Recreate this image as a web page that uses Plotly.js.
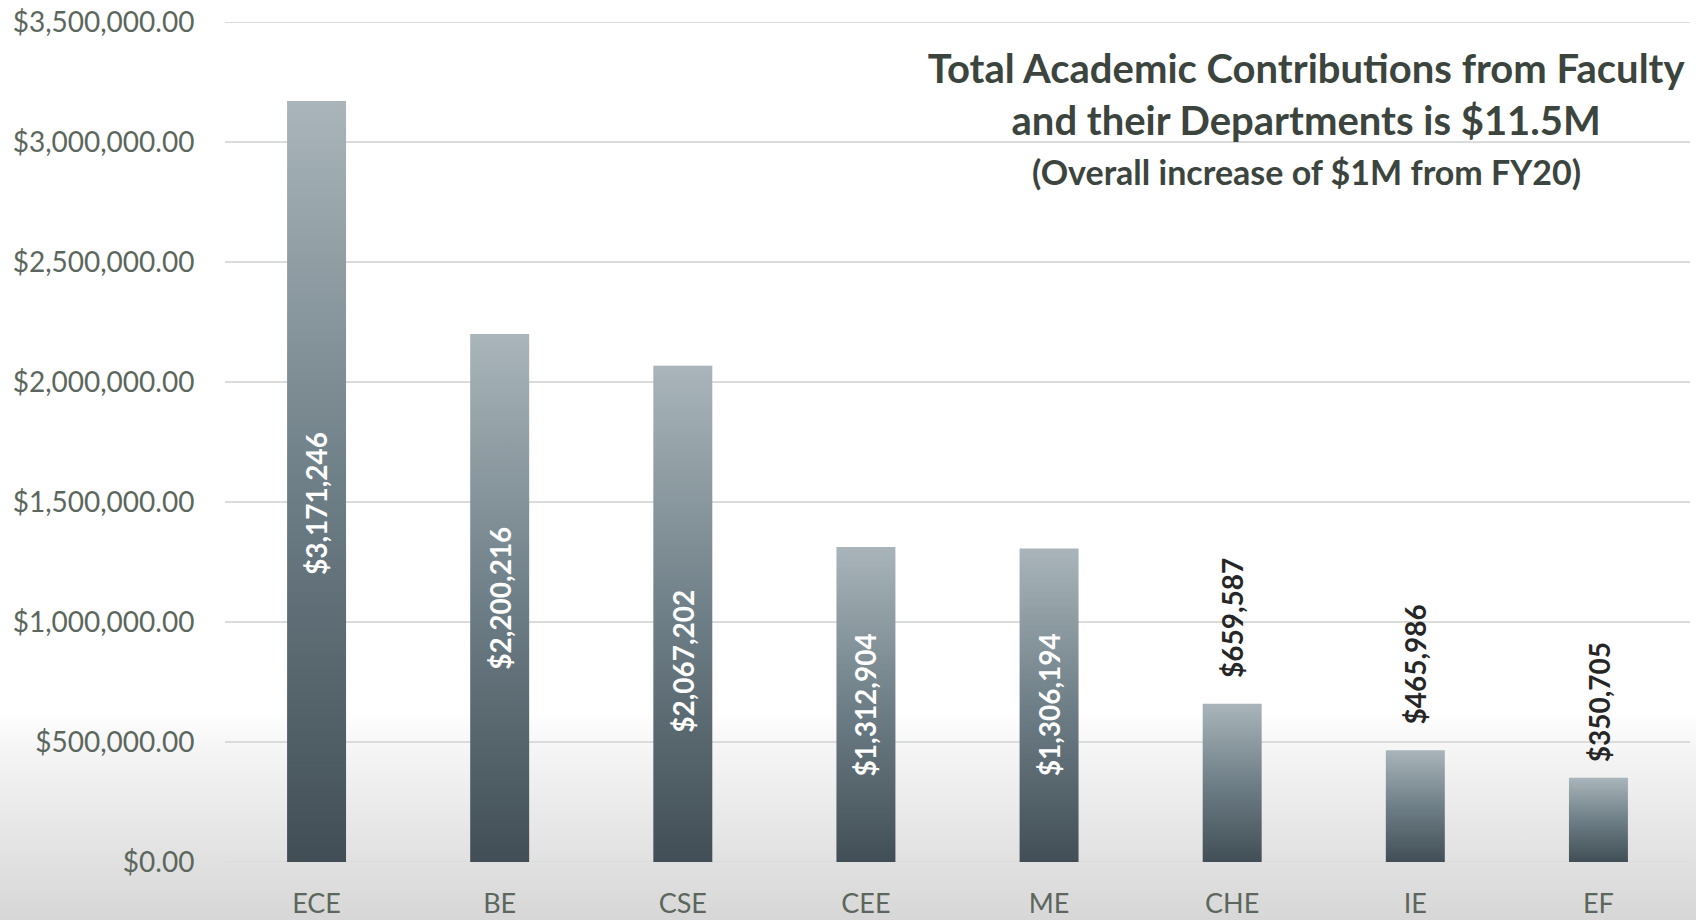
<!DOCTYPE html>
<html>
<head>
<meta charset="utf-8">
<script src="https://cdn.plot.ly/plotly-3.0.1.min.js"></script>
<style>
  html, body { margin: 0; padding: 0; }
  body {
    width: 1696px; height: 920px; overflow: hidden;
    background: linear-gradient(to bottom, #ffffff 0px, #ffffff 712px, #f6f6f6 745px, #e8e8e8 820px, #d7d7d7 920px);
  }
  #chart { width: 1696px; height: 920px; }
</style>
</head>
<body>
<div id="chart"></div>
<script>
// ---- data ----
const departments = ["ECE", "BE", "CSE", "CEE", "ME", "CHE", "IE", "EF"];
const contributions = [3171246, 2200216, 2067202, 1312904, 1306194, 659587, 465986, 350705];
const yTickValues = [0, 500000, 1000000, 1500000, 2000000, 2500000, 3000000, 3500000];
const titleLines = ["Total Academic Contributions from Faculty", "and their Departments is $11.5M"];
const subtitleText = "(Overall increase of $1M from FY20)";

// ---- styling ----
const labelInside = [true, true, true, true, true, false, false, false];
const insideShift = [-22, 0, -47, 0, 0, 0, 0, 0];   // px nudge of inside labels
const outsideShift = [0, 0, 0, 0, 0, 24, 24, 14];   // px gap above short bars
const FONT = "Lato, 'Open Sans', sans-serif";
const TICK_COLOR = "#5b675d";
const GRID_COLOR = "#d9dcdb";

function money(v) { return "$" + v.toLocaleString("en-US"); }
function money2(v) {
  return "$" + v.toLocaleString("en-US", { minimumFractionDigits: 2, maximumFractionDigits: 2 });
}
const yTickText = yTickValues.map(money2);
const yMin = yTickValues[0];
const yMax = yTickValues[yTickValues.length - 1];

const annotations = departments.map((d, i) => {
  const inside = labelInside[i];
  return {
    x: d, y: inside ? contributions[i] / 2 : contributions[i],
    xref: "x", yref: "y",
    text: money(contributions[i]),
    textangle: -90,
    showarrow: false,
    xanchor: "center",
    yanchor: inside ? "middle" : "bottom",
    yshift: inside ? insideShift[i] : outsideShift[i],
    font: { family: FONT, size: 28, weight: 700, color: inside ? "#ffffff" : "#262626" }
  };
});

annotations.push({
  xref: "paper", yref: "paper", x: 0.738, y: 0.8225,
  xanchor: "center", yanchor: "middle", showarrow: false,
  text: subtitleText,
  font: { family: FONT, size: 34, weight: 700, color: "#3c443e" }
});

// gridlines at the two ends of the value range (Plotly skips grid lines on the plot edges)
const edgeLines = [yMin, yMax].map(v => ({
  type: "line", xref: "paper", yref: "y", x0: 0, x1: 1, y0: v, y1: v,
  line: { color: GRID_COLOR, width: 2 }, layer: "below"
}));

const trace = {
  type: "bar",
  x: departments,
  y: contributions,
  marker: { color: "#6f7e86", line: { width: 0 } },
  hoverinfo: "skip"
};

const layout = {
  width: 1696, height: 920,
  margin: { l: 225, r: 6, t: 22, b: 58, pad: 0 },
  paper_bgcolor: "rgba(0,0,0,0)",
  plot_bgcolor: "rgba(0,0,0,0)",
  bargap: 0.678,
  showlegend: false,
  font: { family: FONT, color: TICK_COLOR },
  title: {
    text: titleLines.join("<br>"),
    font: { family: FONT, size: 40, weight: 700, color: "#3c443e" },
    xref: "paper", x: 0.738, xanchor: "center",
    yref: "container", y: 1 - 83 / 920, yanchor: "middle"
  },
  xaxis: {
    type: "category",
    showgrid: false, zeroline: false, showline: false,
    ticks: "outside", ticklen: 18, tickcolor: "rgba(0,0,0,0)",
    tickfont: { family: FONT, size: 27, color: TICK_COLOR },
    automargin: false, fixedrange: true
  },
  yaxis: {
    range: [yMin, yMax],
    tickmode: "array",
    tickvals: yTickValues,
    ticktext: yTickText,
    showgrid: true, gridcolor: GRID_COLOR, gridwidth: 2,
    zeroline: false, showline: false,
    ticks: "outside", ticklen: 24, tickcolor: "rgba(0,0,0,0)",
    tickfont: { family: FONT, size: 28, color: TICK_COLOR },
    automargin: false, fixedrange: true
  },
  shapes: edgeLines,
  annotations: annotations
};

const gd = document.getElementById("chart");

function applyGradient() {
  const svg = gd.querySelector("svg.main-svg");
  if (!svg) return;
  let defs = svg.querySelector("defs");
  if (!defs) { defs = document.createElementNS("http://www.w3.org/2000/svg", "defs"); svg.insertBefore(defs, svg.firstChild); }
  if (!document.getElementById("barGrad")) {
    const g = document.createElementNS("http://www.w3.org/2000/svg", "linearGradient");
    g.setAttribute("id", "barGrad");
    g.setAttribute("x1", "0"); g.setAttribute("y1", "0");
    g.setAttribute("x2", "0"); g.setAttribute("y2", "1");
    [["0", "#a9b5ba"], ["0.5", "#6f7f87"], ["1", "#414e55"]].forEach(([o, c]) => {
      const s = document.createElementNS("http://www.w3.org/2000/svg", "stop");
      s.setAttribute("offset", o); s.setAttribute("stop-color", c);
      g.appendChild(s);
    });
    defs.appendChild(g);
  }
  gd.querySelectorAll("g.trace.bars path").forEach(p => { p.style.fill = "url(#barGrad)"; });
}

Plotly.newPlot(gd, [trace], layout, { displayModeBar: false, staticPlot: true }).then(() => {
  applyGradient();
  gd.on && gd.on("plotly_afterplot", applyGradient);
});
</script>
</body>
</html>
